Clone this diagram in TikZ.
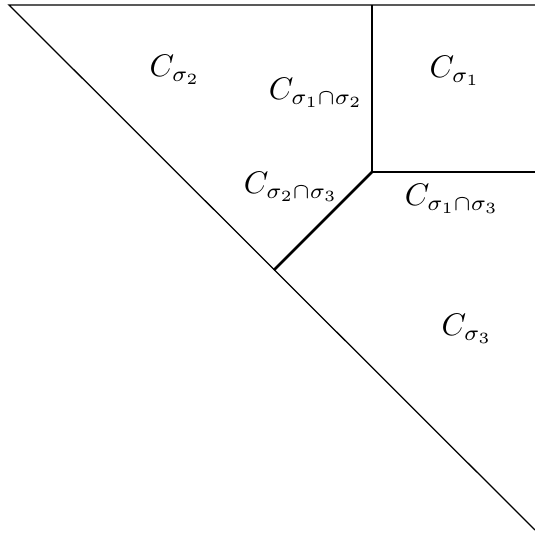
\documentclass[tikz,border=0pt]{standalone}
\usepackage{amsmath,amssymb}
\usepackage{tikz}
\usetikzlibrary{calc}

\begin{document}
\begin{tikzpicture}[
      x=0.32pt, y=-0.32pt,
      cone/.style={font=\normalsize, inner sep=0pt},
      wall/.style={thick},
      rim/.style={thin},
    ]
    \useasboundingbox (0,0) rectangle (535,540);

    % ── corners of the region ──
    \coordinate (tl) at (9,5);
    \coordinate (tr) at (535,5);
    \coordinate (br) at (535,530);
    \coordinate (mid) at (372,172);
    \coordinate (top) at (372,5);
    \coordinate (rgt) at (535,172);
    \coordinate (foot) at (274,270);

    % ── outer boundary ──
    \draw[rim] (tr) -- (tl) -- (br);

    % ── walls between cones ──
    \draw[wall] (top) -- (mid);
    \draw[wall] (mid) -- (rgt);
    \draw[wall] (mid) -- (foot);

    % ── labels ──
    \node[cone] (c2) at (175,70) {$C_{\sigma_2}$};
    \node[cone] (c12) at (316,93) {$C_{\sigma_1\cap\sigma_2}$};
    \node[cone] (c1) at (455,71) {$C_{\sigma_1}$};
    \node[cone] (c23) at (291,187) {$C_{\sigma_2\cap\sigma_3}$};
    \node[cone] (c13) at (452,199) {$C_{\sigma_1\cap\sigma_3}$};
    \node[cone] (c3) at (467,329) {$C_{\sigma_3}$};
  \end{tikzpicture}
\end{document}
